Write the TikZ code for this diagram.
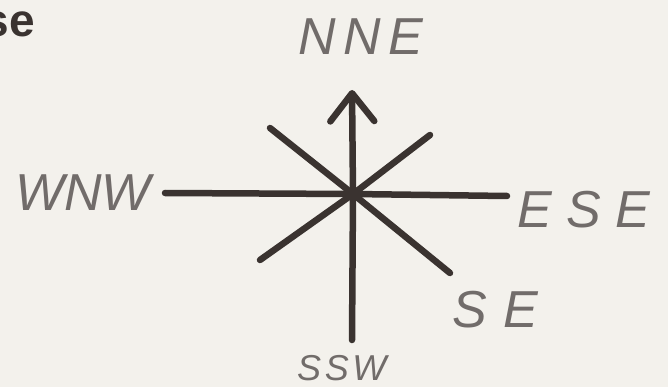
\documentclass[tikz,border=0pt]{standalone}
\usepackage{fontspec}
\setmainfont{Liberation Sans}
\usetikzlibrary{arrows.meta, positioning}

\definecolor{ink}{HTML}{3A3330}
\definecolor{paper}{HTML}{F3F1EC}

\newcommand\handspace[1]{\addfontfeatures{LetterSpace=#1}}

\begin{document}
\begin{tikzpicture}[x=1pt, y=-1pt,
    ray/.style={line width=6.5pt, draw=ink, line cap=round},
    pointer/.style={ray, -{Straight Barb[length=28pt, width=44pt, line cap=round, line join=round]}},
    hand/.style={font=\itshape\fontsize{52}{52}\selectfont, text=ink!72, inner sep=0pt, anchor=west},
    smallhand/.style={hand, font=\itshape\fontsize{36}{36}\selectfont\handspace{10}}
  ]
    % paper
    \fill[paper] (0,0) rectangle (668,387);
    \useasboundingbox (0,0) rectangle (668,387);
    \clip (0,0) rectangle (668,387);

    % compass rose
    \coordinate (hub) at (353,194);
    \coordinate (north) at (352,90);
    \coordinate (south) at (352,340);
    \coordinate (west) at (165,193);
    \coordinate (east) at (507,196);
    \coordinate (northwest) at (270,128);
    \coordinate (southeast) at (450,273);
    \coordinate (southwest) at (260,260);
    \coordinate (northeast) at (430,135);

    \draw[ray] (hub) -- (west);
    \draw[ray] (hub) -- (east);
    \draw[ray] (hub) -- (south);
    \draw[ray] (hub) -- (northwest);
    \draw[ray] (hub) -- (southeast);
    \draw[ray] (hub) -- (southwest);
    \draw[ray] (hub) -- (northeast);
    \draw[pointer] (hub) -- (north);

    % labels
    \node[hand] (nne) at (298,37) {\handspace{15}NNE};
    \node[hand] (wnw) at (15,193) {WNW};
    \node[hand] (ese) at (517,210) {\handspace{28}ESE};
    \node[hand] (se) at (452,310) {\handspace{32}SE};
    \node[smallhand] (ssw) at (297,368) {SSW};
    \node[font=\bfseries\fontsize{46}{46}\selectfont, text=ink, inner sep=0pt,
      anchor=base east] (tag) at (35,37) {se};
\end{tikzpicture}
\end{document}
